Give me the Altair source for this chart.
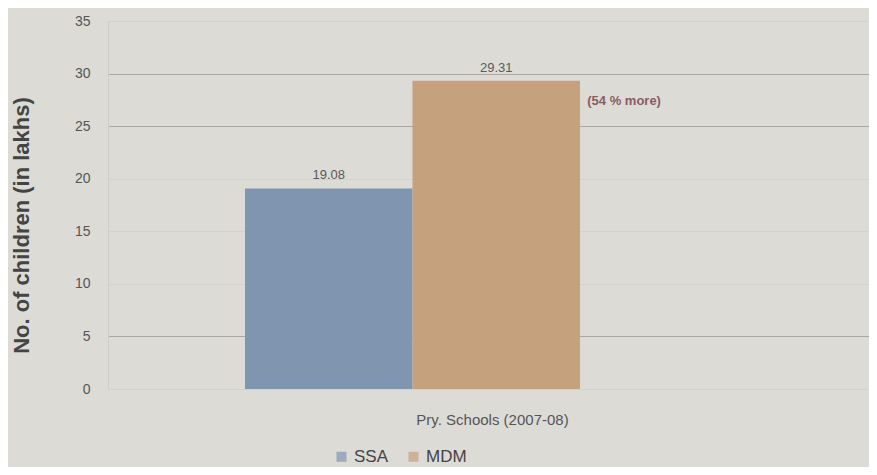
import altair as alt
import pandas as pd

category = ["Pry. Schools (2007-08)", "Pry. Schools (2007-08)"]
series = ["SSA", "MDM"]
values = [19.08, 29.31]
value_labels = ["19.08", "29.31"]
notes = ["", "(54 % more)"]
colors = ["#7f95b0", "#c6a17e"]

df = pd.DataFrame({"cat": category, "series": series, "value": values,
                   "label": value_labels, "note": notes})

FONT = "Liberation Sans"

x = alt.X("cat:N", title=None,
          scale=alt.Scale(paddingInner=0, paddingOuter=0.6358, align=0.3216),
          axis=alt.Axis(labelAngle=0, domain=False, ticks=False, labelPadding=23,
                        labelOffset=80,
                        labelFont=FONT, labelFontSize=15, labelColor="#555555"))
xo = alt.XOffset("series:N", sort=series,
                 scale=alt.Scale(domain=series, paddingInner=0, paddingOuter=0))

y = alt.Y("value:Q", title="No. of children (in lakhs)",
          scale=alt.Scale(domain=[0, 35]),
          axis=alt.Axis(values=[0, 5, 10, 15, 20, 25, 30, 35], ticks=False, labelPadding=18,
                        domain=True, domainColor="#cfcdc8",
                        labelFont=FONT, labelFontSize=14, labelColor="#555555",
                        titleFont=FONT, titleFontSize=22, titleFontWeight="bold",
                        titleColor="#444444", titlePadding=41, titleY=204,
                        gridColor={"condition": {"test": "datum.value === 30 || datum.value === 25 || datum.value === 5",
                                                 "value": "#aaa6a3"},
                                   "value": "#d3d1cc"}))

bars = alt.Chart(df).mark_bar().encode(
    x=x, xOffset=xo, y=y,
    color=alt.Color("series:N", sort=series,
                    scale=alt.Scale(domain=series, range=colors),
                    legend=alt.Legend(title=None, orient="none", direction="horizontal",
                                      legendX=225, legendY=427, symbolType="square",
                                      symbolSize=100, symbolOpacity=0.7,
                                      labelFont=FONT, labelFontSize=17,
                                      labelColor="#444444", columnPadding=16)),
)

labels = alt.Chart(df).mark_text(baseline="bottom", dy=-6, font=FONT, fontSize=13,
                                 color="#5a5a5a").encode(
    x=x, xOffset=xo, y=y, text="label:N")

note = alt.Chart(df).mark_text(align="left", baseline="middle", dx=91, dy=20,
                               font=FONT, fontSize=13, fontWeight="bold",
                               color="#8b5b63").encode(
    x=x, xOffset=xo, y=y, text="note:N")

chart = alt.layer(bars, labels, note).properties(
    width=761, height=368,
    autosize=alt.AutoSizeParams(type="none"),
    padding={"left": 100, "top": 13, "right": 0, "bottom": 78},
    background="#dcdbd6",
).configure_view(stroke=None)

chart.save("out.html", embed_options={"renderer": "svg", "actions": False})
